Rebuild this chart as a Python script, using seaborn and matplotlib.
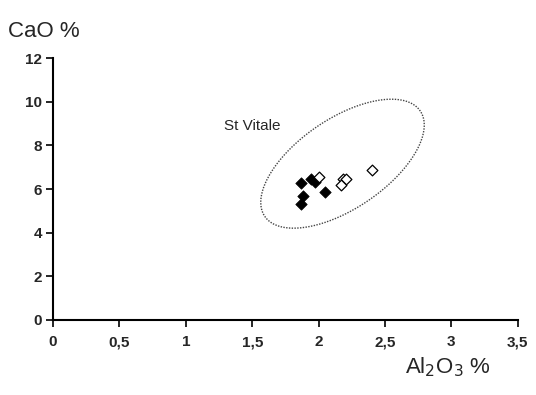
import numpy as np
import pandas as pd
import matplotlib
matplotlib.use("Agg")
import matplotlib.pyplot as plt
import seaborn as sns

# filled diamonds
al2o3_filled = [1.87, 1.94, 1.97, 1.88, 1.87, 2.05]
cao_filled = [6.27, 6.45, 6.34, 5.70, 5.32, 5.84]
# open diamonds
al2o3_open = [2.00, 2.18, 2.21, 2.17, 2.40]
cao_open = [6.53, 6.45, 6.47, 6.19, 6.88]

x_ticks = [0, 0.5, 1, 1.5, 2, 2.5, 3, 3.5]
x_labels = ["0", "0,5", "1", "1,5", "2", "2,5", "3", "3,5"]
y_ticks = [0, 2, 4, 6, 8, 10, 12]

# St Vitale field (ellipse: centre and two half-axis vectors, data units)
ell_cx, ell_cy = 2.18, 7.16
ell_u = (0.586, 2.41)
ell_v = (-0.189, 1.71)

df_f = pd.DataFrame({"Al2O3": al2o3_filled, "CaO": cao_filled})
df_o = pd.DataFrame({"Al2O3": al2o3_open, "CaO": cao_open})

sns.set_style("white")
plt.rcParams["font.family"] = ["Liberation Sans", "DejaVu Sans"]

fig = plt.figure(figsize=(5.36, 3.95), dpi=100)
ax = fig.add_axes([0.099, 0.19, 0.867, 0.663])

t = np.linspace(0, 2 * np.pi, 300)
ex = ell_cx + ell_u[0] * np.cos(t) + ell_v[0] * np.sin(t)
ey = ell_cy + ell_u[1] * np.cos(t) + ell_v[1] * np.sin(t)
ax.plot(ex, ey, color="#444444", lw=1.0, ls=(0, (1, 1)))

sns.scatterplot(data=df_f, x="Al2O3", y="CaO", marker="D", s=34,
                color="black", edgecolor="black", linewidth=0.5, ax=ax, zorder=3)
sns.scatterplot(data=df_o, x="Al2O3", y="CaO", marker="D", s=30,
                color="white", edgecolor="black", linewidth=0.9, ax=ax, zorder=3)

ax.text(1.29, 8.9, "St Vitale", fontsize=11, va="center", ha="left")

ax.set_xlim(0, 3.5)
ax.set_ylim(0, 12)
ax.set_xticks(x_ticks)
ax.set_xticklabels(x_labels)
ax.set_yticks(y_ticks)
for lab in ax.get_xticklabels() + ax.get_yticklabels():
    lab.set_fontweight("bold")
    lab.set_fontsize(11)
ax.tick_params(axis="both", direction="out", length=5, width=1.2, color="black",
               bottom=True, left=True)
ax.tick_params(axis="x", pad=6)
ax.tick_params(axis="y", pad=3)
sns.despine(ax=ax)
for sp in ["left", "bottom"]:
    ax.spines[sp].set_color("black")
    ax.spines[sp].set_linewidth(1.5)
ax.set_xlabel("")
ax.set_ylabel("")

fig.text(0.015, 0.92, "CaO %", fontsize=16, ha="left", va="center")
fig.text(0.755, 0.07, "Al$_2$O$_3$ %", fontsize=16, ha="left", va="center")

fig.savefig("out.png", dpi=100, facecolor="white")
